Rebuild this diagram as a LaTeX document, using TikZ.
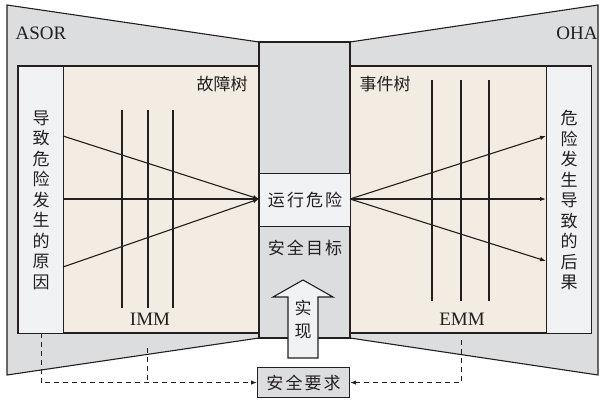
\documentclass[tikz,border=0pt]{standalone}
\usepackage{fontspec}
\setmainfont{Liberation Serif}
\newfontfamily\cjk{Noto Sans CJK SC}
\newfontfamily\cjksp[LetterSpace=12]{Noto Sans CJK SC}
\usetikzlibrary{arrows.meta}
\definecolor{trapgray}{HTML}{DCDDDF}
\definecolor{beige}{HTML}{F3ECE2}
\definecolor{pale}{HTML}{F1F2F4}
\definecolor{ink}{HTML}{231F20}
\tikzset{
  outline/.style={draw=ink, line width=1.1pt},
  lat/.style={font=\fontsize{19}{19}\selectfont, text=ink, inner sep=0pt},
  zh/.style={font=\cjk\fontsize{17}{17}\selectfont, text=ink, inner sep=0pt},
  zhsp/.style={font=\cjksp\fontsize{17}{17}\selectfont, text=ink, inner sep=0pt},
  vert/.style={font=\cjk\fontsize{17}{20.5}\selectfont, text=ink, align=center, inner sep=0pt},
  mline/.style={draw=ink, line width=1.1pt},
  arr/.style={draw=ink, line width=1.1pt, -{Latex[length=6pt,width=4.5pt]}},
  dashline/.style={draw=ink, line width=1pt, dash pattern=on 5pt off 4pt},
  darr/.style={dashline, -{Latex[length=6pt,width=4.5pt]}},
}
\begin{document}
\begin{tikzpicture}[x=1pt,y=-1pt]
\useasboundingbox (0,0) rectangle (601,405);
% trapezoids
\path[outline, fill=trapgray] (7,5) -- (259,42) -- (259,338) -- (7,375) -- cycle;
\path[outline, fill=trapgray] (598,5) -- (350,42) -- (350,338) -- (598,375) -- cycle;
% centre column
\path[outline, fill=trapgray] (259,42) rectangle (350,338);
% inner areas
\path[outline, fill=beige] (18,66) rectangle (259,333);
\path[outline, fill=beige] (350,66) rectangle (591,333);
\node[outline, fill=pale, minimum width=45pt, minimum height=267pt, inner sep=0pt, anchor=north west] (cause) at (18,66) {};
\node[outline, fill=pale, minimum width=45pt, minimum height=267pt, inner sep=0pt, anchor=north west] (cons) at (546,66) {};
\node[outline, fill=pale, minimum width=91pt, minimum height=53pt, inner sep=0pt, anchor=north west] (risk) at (259,173) {};
\node[zhsp] at (risk.center) {运行危险};
\node[zhsp] (goal) at (305,248) {安全目标};
% labels
\node[lat] (asor) at (41,33) {ASOR};
\node[lat] (oha) at (577,33) {OHA};
\node[zh] (ft) at (222,84) {故障树};
\node[zh] (et) at (385,84) {事件树};
\node[lat] (imm) at (150,319) {IMM};
\node[lat] (emm) at (462,319) {EMM};
\node[vert] at (cause.center) {导\\致\\危\\险\\发\\生\\的\\原\\因};
\node[vert] at (cons.center) {危\\险\\发\\生\\导\\致\\的\\后\\果};
% vertical lines
\foreach \x in {122,148,173} \draw[mline] (\x,110) -- (\x,308);
\foreach \x in {432,461,489} \draw[mline] (\x,80) -- (\x,301);
% arrows
\coordinate (c1) at (63,136);
\coordinate (c2) at (63,199);
\coordinate (c3) at (63,267);
\coordinate (r0) at (259,199);
\coordinate (s0) at (350,199);
\coordinate (e1) at (546,136);
\coordinate (e2) at (546,199);
\coordinate (e3) at (546,261);
\draw[arr] (c1) -- (r0);
\draw[arr] (c2) -- (r0);
\draw[arr] (c3) -- (r0);
\draw[arr] (s0) -- (e1);
\draw[arr] (s0) -- (e2);
\draw[arr] (s0) -- (e3);
% block arrow
\path[outline, fill=pale] (288,358) -- (288,297) -- (273,297) -- (303,280) -- (333,297) -- (318,297) -- (318,358) -- cycle;
\node[font=\cjk\fontsize{17}{23}\selectfont, text=ink, align=center, inner sep=0pt] (real) at (303,319) {实\\现};
% requirement box
\node[outline, fill=trapgray, minimum width=92pt, minimum height=30pt, inner sep=0pt, anchor=north west] (req) at (257,367) {};
\node[zhsp] at (req.center) {安全要求};
% dashed connectors
\coordinate (d1) at (41,333);
\coordinate (d2) at (147,348);
\coordinate (d3) at (461,340);
\draw[darr] (d1) |- (req.west);
\draw[dashline] (d2) -- (d2 |- req.west);
\draw[darr] (d3) |- (req.east);
\end{tikzpicture}
\end{document}
